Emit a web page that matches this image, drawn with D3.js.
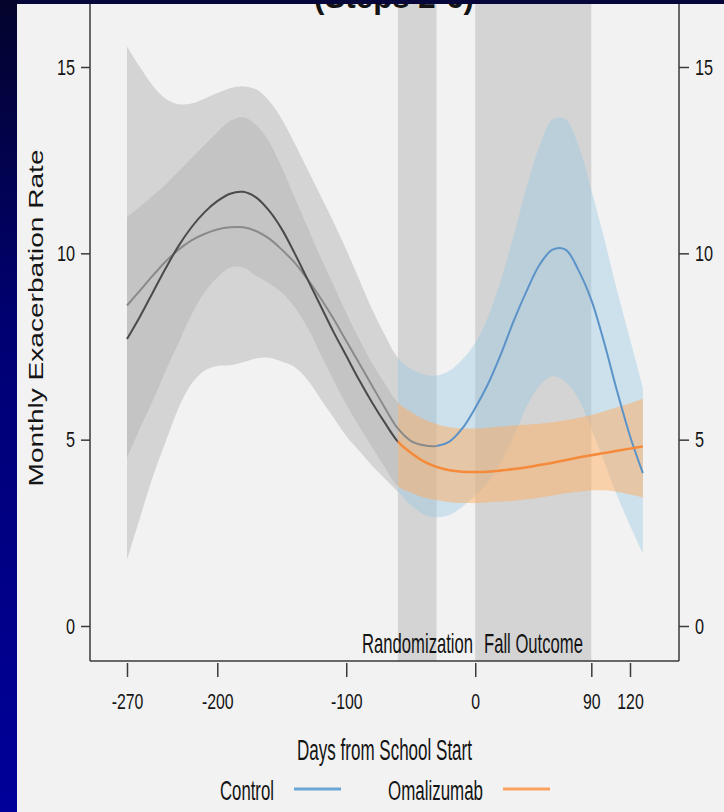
<!DOCTYPE html>
<html>
<head>
<meta charset="utf-8">
<script src="https://cdn.jsdelivr.net/npm/d3@7"></script>
<style>
  html, body { margin: 0; padding: 0; background: #f2f2f2; }
  svg { display: block; }
  text { font-family: "Liberation Sans", Arial, Helvetica, sans-serif; fill: #141414; }
</style>
</head>
<body>
<svg id="chart"></svg>
<script>
const width = 724;
const height = 812;

// days from school start, every 10 days
const days = [-270, -260, -250, -240, -230, -220, -210, -200, -190, -180, -170, -160, -150, -140,
  -130, -120, -110, -100, -90, -80, -70, -60, -50, -40, -30, -20, -10, 0, 10, 20, 30, 40, 50,
  60, 70, 80, 90, 100, 110, 120, 130];

const controlFit = [8.6, 9.0, 9.4, 9.78, 10.1, 10.35, 10.52, 10.64, 10.7, 10.7, 10.6, 10.4, 10.1, 9.75,
  9.3, 8.8, 8.25, 7.65, 7.05, 6.45, 5.85, 5.3, 4.97, 4.85, 4.83, 4.95, 5.3, 5.85, 6.5, 7.3, 8.2, 9.0, 9.7,
  10.1, 10.1, 9.55, 8.75, 7.6, 6.3, 5.1, 4.1];
const controlLo = [1.77, 2.9, 4.0, 4.95, 5.85, 6.5, 6.85, 6.98, 7.0, 7.08, 7.18, 7.2, 7.1, 6.95,
  6.6, 6.1, 5.6, 5.1, 4.7, 4.3, 3.95, 3.6, 3.25, 3.0, 2.92, 2.98, 3.2, 3.5, 3.85, 4.4, 5.1, 5.9, 6.45,
  6.7, 6.55, 6.1, 5.3, 4.4, 3.5, 2.7, 1.95];
const controlHi = [15.55, 15.0, 14.5, 14.15, 14.0, 14.02, 14.15, 14.3, 14.43, 14.48, 14.4, 14.1, 13.6, 12.95,
  12.25, 11.55, 10.85, 10.1, 9.3, 8.5, 7.8, 7.2, 6.9, 6.75, 6.72, 6.85, 7.15, 7.6, 8.3, 9.3, 10.5, 11.8, 12.9,
  13.6, 13.6, 12.9, 11.7, 10.4, 9.0, 7.7, 6.4];

const omaFit = [7.7, 8.3, 8.95, 9.6, 10.2, 10.7, 11.1, 11.4, 11.6, 11.65, 11.5, 11.15, 10.65, 10.0,
  9.3, 8.6, 7.9, 7.25, 6.6, 6.0, 5.45, 4.95, 4.65, 4.42, 4.27, 4.18, 4.14, 4.13, 4.14, 4.17, 4.21, 4.26, 4.32,
  4.38, 4.45, 4.52, 4.58, 4.64, 4.7, 4.76, 4.82];
const omaLo = [4.5, 5.3, 6.05, 6.85, 7.6, 8.35, 8.95, 9.35, 9.62, 9.62, 9.4, 9.2, 8.95, 8.55,
  8.0, 7.3, 6.6, 5.95, 5.35, 4.8, 4.25, 3.75, 3.58, 3.45, 3.38, 3.32, 3.3, 3.3, 3.32, 3.34, 3.36, 3.4, 3.45,
  3.5, 3.56, 3.6, 3.64, 3.64, 3.6, 3.53, 3.45];
const omaHi = [10.97, 11.25, 11.55, 11.85, 12.2, 12.55, 12.9, 13.25, 13.55, 13.65, 13.45, 13.0, 12.3, 11.5,
  10.7, 9.9, 9.15, 8.4, 7.7, 7.05, 6.5, 6.0, 5.75, 5.55, 5.42, 5.33, 5.3, 5.3, 5.32, 5.35, 5.38, 5.4, 5.43,
  5.47, 5.52, 5.58, 5.66, 5.76, 5.87, 5.98, 6.1];

const xTicks = [-270, -200, -100, 0, 90, 120];
const yTicks = [0, 5, 10, 15];
const windowNames = ["Randomization", "Fall Outcome"];
const windowStart = [-60, 0];
const windowEnd = [-30, 90];
const seriesNames = ["Control", "Omalizumab"];

const randomStart = -60;   // bands and omalizumab line turn to colour here
const controlSwitch = -30; // control line turns blue here

const svg = d3.select("#chart")
  .attr("width", width)
  .attr("height", height);

const x = d3.scaleLinear().domain([-270, 120]).range([127, 630]);
const y = d3.scaleLinear().domain([0, 15]).range([626, 67]);
const plotLeft = 90, plotRight = 679, plotBottom = 661;

// the slide was squeezed sideways, so text is narrowed to the measured widths
function squeeze(sel, k) {
  sel.each(function () {
    const t = d3.select(this);
    const w = this.getComputedTextLength();
    const px = +t.attr("x") || 0, py = +t.attr("y") || 0;
    const old = t.attr("transform") || "";
    t.attr("x", 0).attr("y", 0)
      .attr("transform", `${old} translate(${px},${py}) scale(${k},1)`);
  });
}
function fitTo(sel, w) {
  sel.each(function () {
    squeeze(d3.select(this), w / this.getComputedTextLength());
  });
}

const rows = days.map((d, i) => ({
  day: d,
  cFit: controlFit[i], cLo: controlLo[i], cHi: controlHi[i],
  oFit: omaFit[i], oLo: omaLo[i], oHi: omaHi[i]
}));

svg.append("rect").attr("width", width).attr("height", height).attr("fill", "#f2f2f2");

const defs = svg.append("defs");
function clip(id, x0, x1) {
  defs.append("clipPath").attr("id", id)
    .append("rect").attr("x", x0).attr("y", 0).attr("width", x1 - x0).attr("height", plotBottom);
}
clip("pre", 0, x(randomStart));
clip("post", x(randomStart), width);
clip("cpre", 0, x(controlSwitch));
clip("cpost", x(controlSwitch), width);

const grad = defs.append("linearGradient").attr("id", "navy")
  .attr("x1", 0).attr("y1", 0).attr("x2", 0).attr("y2", 1);
grad.append("stop").attr("offset", 0).attr("stop-color", "#04042c");
grad.append("stop").attr("offset", 0.4).attr("stop-color", "#000072");
grad.append("stop").attr("offset", 1).attr("stop-color", "#00009a");

// time windows
svg.append("g")
  .selectAll("rect")
  .data(windowNames)
  .join("rect")
  .attr("x", (d, i) => x(windowStart[i]))
  .attr("width", (d, i) => x(windowEnd[i]) - x(windowStart[i]))
  .attr("y", 0)
  .attr("height", plotBottom)
  .attr("fill", "#d4d4d4");

const band = (lo, hi) => d3.area()
  .x(d => x(d.day))
  .y0(d => y(d[lo]))
  .y1(d => y(d[hi]))
  .curve(d3.curveCatmullRom);
const line = key => d3.line()
  .x(d => x(d.day))
  .y(d => y(d[key]))
  .curve(d3.curveCatmullRom);

// pre-randomization grey bands
svg.append("path").attr("d", band("cLo", "cHi")(rows)).attr("clip-path", "url(#pre)")
  .attr("fill", "#b2b2b2").attr("fill-opacity", 0.47);
svg.append("path").attr("d", band("oLo", "oHi")(rows)).attr("clip-path", "url(#pre)")
  .attr("fill", "#b2b2b2").attr("fill-opacity", 0.47);

// post-randomization coloured bands
svg.append("path").attr("d", band("cLo", "cHi")(rows)).attr("clip-path", "url(#post)")
  .attr("fill", "rgb(150,200,230)").attr("fill-opacity", 0.4);
svg.append("path").attr("d", band("oLo", "oHi")(rows)).attr("clip-path", "url(#post)")
  .attr("fill", "#fdae61").attr("fill-opacity", 0.5);

// lines
svg.append("path").attr("d", line("cFit")(rows)).attr("clip-path", "url(#cpre)")
  .attr("fill", "none").attr("stroke", "#8a8a8a").attr("stroke-width", 2);
svg.append("path").attr("d", line("oFit")(rows)).attr("clip-path", "url(#pre)")
  .attr("fill", "none").attr("stroke", "#4a4a4a").attr("stroke-width", 2);
svg.append("path").attr("d", line("cFit")(rows)).attr("clip-path", "url(#cpost)")
  .attr("fill", "none").attr("stroke", "#5b93c8").attr("stroke-width", 2);
svg.append("path").attr("d", line("oFit")(rows)).attr("clip-path", "url(#post)")
  .attr("fill", "none").attr("stroke", "#f58a3a").attr("stroke-width", 2.5);

// frame lines
const frame = svg.append("g").attr("stroke", "#3a3a3a").attr("stroke-width", 1.5);
frame.append("line").attr("x1", plotLeft).attr("x2", plotLeft).attr("y1", 0).attr("y2", plotBottom);
frame.append("line").attr("x1", plotRight).attr("x2", plotRight).attr("y1", 0).attr("y2", plotBottom);
frame.append("line").attr("x1", plotLeft).attr("x2", plotRight).attr("y1", plotBottom).attr("y2", plotBottom);

// axes
function styleAxis(g) {
  g.select(".domain").remove();
  g.selectAll("line").attr("stroke", "#3a3a3a").attr("stroke-width", 1.5);
  g.selectAll("text").attr("fill", "#141414").style("font-family", null);
}

const yLeft = svg.append("g")
  .attr("transform", `translate(${plotLeft},0)`)
  .call(d3.axisLeft(y).tickValues(yTicks).tickFormat(d => String(d)).tickSize(9).tickPadding(6))
  .attr("font-size", 22)
  .call(styleAxis);
squeeze(yLeft.selectAll("text"), 0.74);

const yRight = svg.append("g")
  .attr("transform", `translate(${plotRight},0)`)
  .call(d3.axisRight(y).tickValues(yTicks).tickFormat(d => String(d)).tickSize(10).tickPadding(6))
  .attr("font-size", 22)
  .call(styleAxis);
squeeze(yRight.selectAll("text"), 0.74);

const xAxis = svg.append("g")
  .attr("transform", `translate(0,${plotBottom + 2})`)
  .call(d3.axisBottom(x).tickValues(xTicks).tickFormat(d => String(d)).tickSize(14).tickPadding(16))
  .attr("font-size", 22)
  .call(styleAxis);
squeeze(xAxis.selectAll("text"), 0.72);

// window labels
svg.append("text").attr("x", 473).attr("y", 653).attr("text-anchor", "end")
  .attr("font-size", 27).text(windowNames[0]).call(fitTo, 111);
svg.append("text").attr("x", 484).attr("y", 653)
  .attr("font-size", 27).text(windowNames[1]).call(fitTo, 99);

// axis titles
svg.append("text")
  .attr("x", (plotLeft + plotRight) / 2).attr("y", 760)
  .attr("text-anchor", "middle").attr("font-size", 29)
  .text("Days from School Start").call(fitTo, 175);

svg.append("text")
  .attr("transform", "translate(43,318) scale(0.72,1) rotate(-90)")
  .attr("text-anchor", "middle").attr("font-size", 28)
  .text("Monthly Exacerbation Rate")
  .attr("textLength", 337).attr("lengthAdjust", "spacingAndGlyphs");

// legend
const legendColors = ["#6aa6d6", "#fba15e"];
const legendText = [220, 388];
const legendWidths = [54, 95];
const legendLine = [294, 503];
const legend = svg.append("g");
legend.selectAll("text")
  .data(seriesNames)
  .join("text")
  .attr("x", (d, i) => legendText[i])
  .attr("y", 800)
  .attr("font-size", 28)
  .text(d => d)
  .each(function (d, i) { fitTo(d3.select(this), legendWidths[i]); });
legend.selectAll("line")
  .data(seriesNames)
  .join("line")
  .attr("x1", (d, i) => legendLine[i])
  .attr("x2", (d, i) => legendLine[i] + 47)
  .attr("y1", 789).attr("y2", 789)
  .attr("stroke", (d, i) => legendColors[i])
  .attr("stroke-width", 3);

// title, cut off by the slide edge
svg.append("text")
  .attr("x", 394).attr("y", 8)
  .attr("text-anchor", "middle")
  .attr("font-size", 34).attr("font-weight", "bold")
  .text("(Steps 2-6)").call(fitTo, 160);

// slide frame
svg.append("rect").attr("x", 0).attr("y", 0).attr("width", width).attr("height", 4).attr("fill", "#06063a");
svg.append("rect").attr("x", 0).attr("y", 0).attr("width", 17).attr("height", height).attr("fill", "url(#navy)");
</script>
</body>
</html>
